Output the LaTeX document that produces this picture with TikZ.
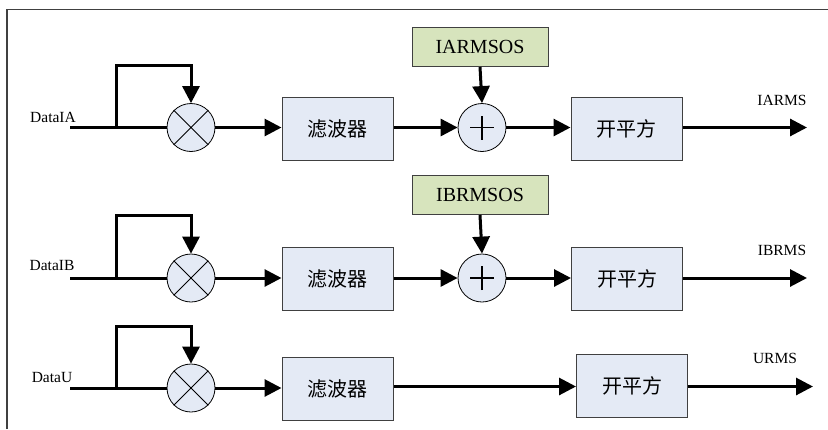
\documentclass[tikz,border=0pt]{standalone}
\usepackage{fontspec}
\setmainfont{Liberation Serif}
\newfontfamily\cjk{Noto Sans CJK SC}
\usetikzlibrary{arrows.meta}
\definecolor{boxblue}{HTML}{E4EAF5}
\definecolor{boxgreen}{HTML}{D7E4BD}
\definecolor{edge}{HTML}{404040}

\begin{document}
\begin{tikzpicture}[x=1pt,y=-1pt,
  sig/.style={line width=3pt},
  arr/.style={sig,-{Triangle[length=17pt,width=17pt]}},
  blk/.style={draw=edge,line width=1pt,fill=boxblue,minimum width=111pt,minimum height=63pt,inner sep=0pt,font=\cjk\fontsize{20}{24}\selectfont},
  ofs/.style={draw=edge,line width=1pt,fill=boxgreen,minimum width=136pt,minimum height=39pt,inner sep=0pt,font=\fontsize{20}{24}\selectfont},
  mixer/.style={circle,draw=black,line width=0.8pt,fill=boxblue,minimum size=48pt,inner sep=0pt},
  lbl/.style={inner sep=0pt,font=\fontsize{15.5}{18}\selectfont}]

\useasboundingbox (0,0) rectangle (828,429);

% outer frame (only top and left edges visible)
\draw[line width=1.5pt,black!75] (7,429) -- (7,9.5) -- (828,9.5);

% ---------- channel A ----------
\node[lbl] (la) at (53,117) {DataIA};
\coordinate (ia) at (70,127.5);
\coordinate (ba) at (116,127.5);
\coordinate (ta) at (116,65.5);
\node[mixer] (ma) at (191,127.5) {};
\draw[line width=0.8pt] (ma.north west) -- (ma.south east) (ma.north east) -- (ma.south west);
\node[blk] (fa) at (337.5,128.5) {滤波器};
\node[ofs] (oa) at (480,47) {IARMSOS};
\node[mixer] (aa) at (482,127.5) {};
\draw[line width=1.3pt] ([xshift=-12pt]aa.center) -- ([xshift=12pt]aa.center)
                        ([yshift=-12pt]aa.center) -- ([yshift=12pt]aa.center);
\node[blk] (sa) at (626.5,128.5) {开平方};
\coordinate (ea) at (807,127.5);
\node[lbl] (ra) at (782,100) {IARMS};

\draw[sig] (ia) -- (ma.west);
\draw[arr] (ba) -- (ta) -| (ma.north);
\draw[arr] (ma.east) -- (fa.west |- ma.east);
\draw[arr] (fa.east |- aa.west) -- (aa.west);
\draw[arr] (oa.south) -- (aa.north);
\draw[arr] (aa.east) -- (sa.west |- aa.east);
\draw[arr] (sa.east |- ea) -- (ea);

% ---------- channel B ----------
\node[lbl] (lb) at (52,265) {DataIB};
\coordinate (ib) at (70,278);
\coordinate (bb) at (116,278);
\coordinate (tb) at (116,215.5);
\node[mixer] (mb) at (191,278) {};
\draw[line width=0.8pt] (mb.north west) -- (mb.south east) (mb.north east) -- (mb.south west);
\node[blk] (fb) at (337.5,278.5) {滤波器};
\node[ofs] (ob) at (480,195) {IBRMSOS};
\node[mixer] (ab) at (482,278) {};
\draw[line width=1.3pt] ([xshift=-12pt]ab.center) -- ([xshift=12pt]ab.center)
                        ([yshift=-12pt]ab.center) -- ([yshift=12pt]ab.center);
\node[blk] (sb) at (627,278.5) {开平方};
\coordinate (eb) at (807,278);
\node[lbl] (rb) at (782,250) {IBRMS};

\draw[sig] (ib) -- (mb.west);
\draw[arr] (bb) -- (tb) -| (mb.north);
\draw[arr] (mb.east) -- (fb.west |- mb.east);
\draw[arr] (fb.east |- ab.west) -- (ab.west);
\draw[arr] (ob.south) -- (ab.north);
\draw[arr] (ab.east) -- (sb.west |- ab.east);
\draw[arr] (sb.east |- eb) -- (eb);

% ---------- channel U ----------
\node[lbl] (lu) at (52,377) {DataU};
\coordinate (iu) at (70,388);
\coordinate (bu) at (116,388);
\coordinate (tu) at (116,326);
\node[mixer] (mu) at (191,388) {};
\draw[line width=0.8pt] (mu.north west) -- (mu.south east) (mu.north east) -- (mu.south west);
\node[blk] (fu) at (337.5,388.5) {滤波器};
\node[blk] (su) at (632,386) {开平方};
\coordinate (eu) at (813,386.5);
\node[lbl] (ru) at (775,358) {URMS};

\draw[sig] (iu) -- (mu.west);
\draw[arr] (bu) -- (tu) -| (mu.north);
\draw[arr] (mu.east) -- (fu.west |- mu.east);
\draw[arr] (fu.east |- 0,386.5) -- (su.west |- 0,386.5);
\draw[arr] (su.east |- eu) -- (eu);

\end{tikzpicture}
\end{document}
